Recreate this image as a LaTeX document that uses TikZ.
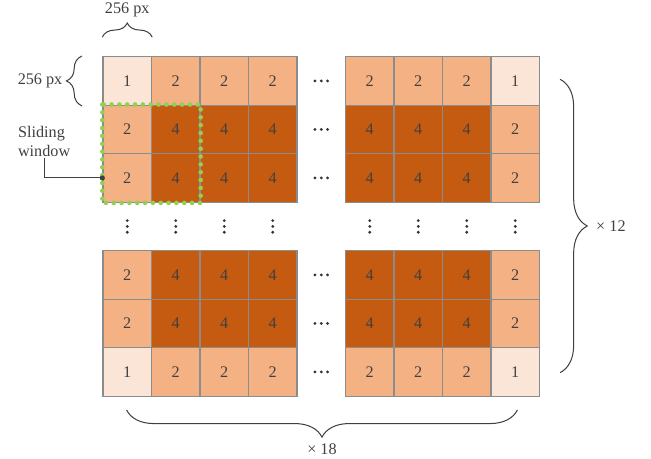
\documentclass[tikz,border=0pt]{standalone}
\usepackage{fontspec}
\setmainfont{Liberation Serif}
\usetikzlibrary{arrows.meta, positioning, decorations.pathreplacing}
\definecolor{palebg}{RGB}{251,229,214}
\definecolor{midbg}{RGB}{244,177,131}
\definecolor{deepbg}{RGB}{197,90,17}
\definecolor{gridgray}{RGB}{140,140,140}
\definecolor{txtgray}{RGB}{64,64,64}
\definecolor{wingreen}{RGB}{146,208,80}
\tikzset{
  cell/.style={draw=gridgray, line width=0.8pt, minimum size=1cm, inner sep=0pt,
    font=\fontsize{9.5}{11}\selectfont, text=txtgray},
  lbl/.style={font=\fontsize{9.5}{11}\selectfont, text=txtgray, inner sep=1pt},
  gapdot/.style={fill=black!80},
  brc/.style={decorate, decoration={brace, amplitude=#1}, draw=txtgray, line width=0.6pt},
  win/.style={draw=wingreen, line width=2.7pt, dash pattern=on 0pt off 4.6pt, line cap=round},
}

\begin{document}
\begin{tikzpicture}
      \useasboundingbox (0,0) rectangle (13.423,-9.464);
      % weight grid
      \foreach \r in {0,1,2,4,5,6} {
        \foreach \c in {0,1,2,3,5,6,7,8} {
          \pgfmathtruncatemacro{\e}{(\r==0)+(\r==6)+(\c==0)+(\c==8)}
          \ifcase\e \def\val{4}\def\clr{deepbg}\or \def\val{2}\def\clr{midbg}\else \def\val{1}\def\clr{palebg}\fi
          \node[cell, fill=\clr] (c-\r-\c) at (2.624+\c,-1.669-\r) {\val};
        }
      }
      % skipped rows and columns
      \foreach \r in {0,1,2,4,5,6} {
        \coordinate (h-\r) at (6.624,-1.669-\r);
        \foreach \d in {-0.13,0,0.13}
          \fill[gapdot] ([xshift=\d cm]h-\r) circle (0.032);
      }
      \foreach \c in {0,1,2,3,5,6,7,8} {
        \coordinate (v-\c) at (2.624+\c,-4.669);
        \foreach \d in {-0.12,0,0.12}
          \fill[gapdot] ([yshift=\d cm]v-\c) circle (0.032);
      }
      % sliding window
      \draw[win] (c-1-0.north west) rectangle (c-2-1.south east);
      \node[lbl, align=left, anchor=north west] (slabel) at (0.33,-2.56) {Sliding\\window};
      \draw[txtgray, line width=0.6pt, -{Circle[length=3pt]}, shorten >=-1.5pt] (slabel.south) |- (c-2-0.west);
      % braces
      \draw[brc=0.29cm] ([yshift=0.39cm]c-0-0.north west) -- ([yshift=0.39cm]c-0-0.north east)
        node[lbl, midway, yshift=0.57cm] (tsize) {256 px};
      \draw[brc=0.32cm] ([xshift=-0.42cm]c-0-0.south west) -- ([xshift=-0.42cm]c-0-0.north west)
        node[lbl, midway, anchor=east, xshift=-0.36cm] (lsize) {256 px};
      \draw[brc=0.56cm] ([shift={(0.41,-0.48)}]c-0-8.north east) -- ([shift={(0.41,0.5)}]c-6-8.south east)
        node[lbl, midway, anchor=west, xshift=0.7cm] (rcount) {× 12};
      \draw[brc=0.56cm] ([shift={(-0.47,-0.27)}]c-6-8.south east) -- ([shift={(0.5,-0.27)}]c-6-0.south west)
        node[lbl, midway, yshift=-0.8cm] (bcount) {× 18};
    \end{tikzpicture}
\end{document}
